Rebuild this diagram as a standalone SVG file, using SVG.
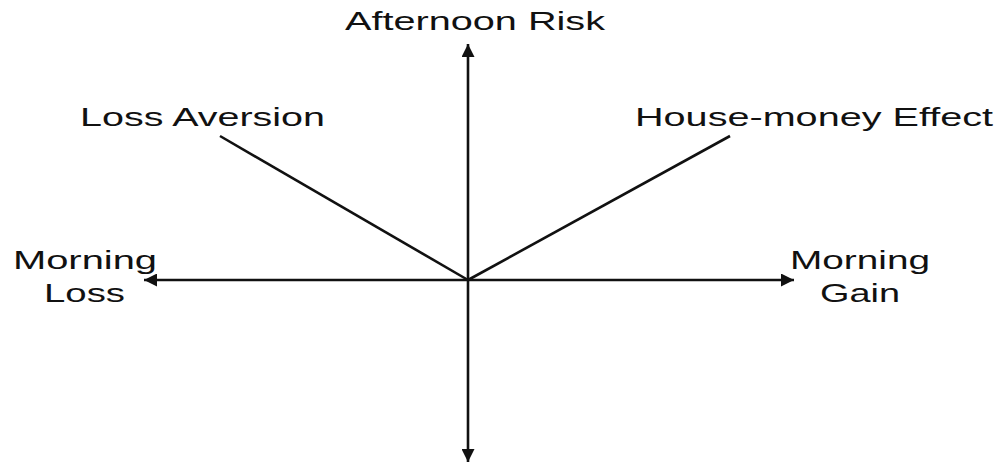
<svg xmlns="http://www.w3.org/2000/svg" width="1002" height="463" viewBox="0 0 1002 463">
<style>
.lbl{font-family:"Liberation Sans",Arial,sans-serif;font-size:26px;fill:#111}
.ax{stroke:#111;stroke-width:2.6;fill:none}
</style>
<defs>
<marker id="ah" viewBox="0 0 10 10" refX="10" refY="5" markerWidth="8" markerHeight="5" markerUnits="strokeWidth" orient="auto">
<path d="M0,0 L10,5 L0,10 Z" fill="#111"/>
</marker>
</defs>
<rect width="1002" height="463" fill="#fff"/>
<g id="connectors">
<line class="ax" x1="468" y1="280" x2="468" y2="44" marker-end="url(#ah)"/>
<line class="ax" x1="468" y1="280" x2="468" y2="462" marker-end="url(#ah)"/>
<line class="ax" x1="468" y1="280" x2="144" y2="280" marker-end="url(#ah)"/>
<line class="ax" x1="468" y1="280" x2="794" y2="280" marker-end="url(#ah)"/>
<line class="ax" stroke-width="2.2" x1="220" y1="136" x2="468" y2="280"/>
<line class="ax" stroke-width="2.2" x1="730" y1="136" x2="468" y2="280"/>
</g>
<g id="afternoon-risk"><text class="lbl" x="345" y="30" textLength="260" lengthAdjust="spacingAndGlyphs">Afternoon Risk</text></g>
<g id="loss-aversion"><text class="lbl" x="80" y="126" textLength="245" lengthAdjust="spacingAndGlyphs">Loss Aversion</text></g>
<g id="house-money"><text class="lbl" x="635" y="126" textLength="358" lengthAdjust="spacingAndGlyphs">House-money Effect</text></g>
<g id="morning-loss">
<text class="lbl" x="13" y="269" textLength="144" lengthAdjust="spacingAndGlyphs">Morning</text>
<text class="lbl" x="44" y="302" textLength="81" lengthAdjust="spacingAndGlyphs">Loss</text>
</g>
<g id="morning-gain">
<text class="lbl" x="790" y="269" textLength="140" lengthAdjust="spacingAndGlyphs">Morning</text>
<text class="lbl" x="820" y="302" textLength="80" lengthAdjust="spacingAndGlyphs">Gain</text>
</g>
</svg>
